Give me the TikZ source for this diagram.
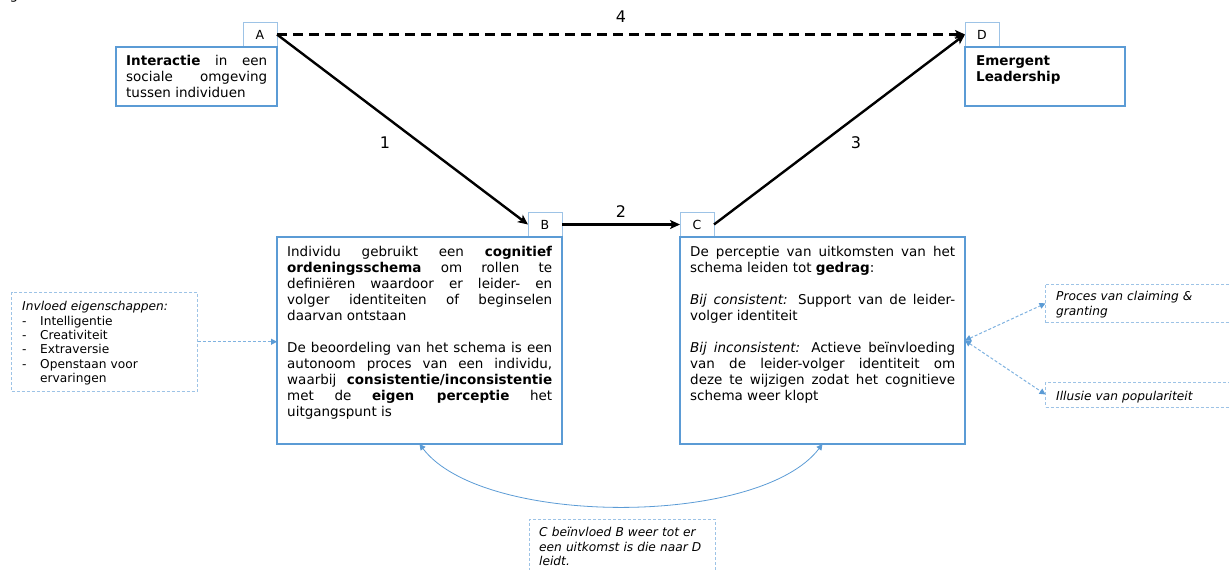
\documentclass[tikz,border=0pt]{standalone}
\usepackage{fontspec}
\setmainfont{DejaVu Sans}
\usetikzlibrary{arrows.meta,calc}
\definecolor{mblue}{HTML}{5B9BD5}
\definecolor{lblue}{HTML}{9DC3E6}
\definecolor{dblue}{HTML}{7FB2E0}
\tolerance=10000
\hyphenpenalty=10000
\tikzset{
  mainbox/.style={draw=mblue, line width=1.6pt, inner sep=0pt, outer sep=0pt, anchor=north west},
  labbox/.style={draw=lblue, line width=1pt, fill=white, minimum width=34pt, minimum height=25pt, inner sep=0pt, outer sep=0pt, font=\fontsize{12.5}{15}\selectfont},
  dbox/.style={draw=lblue, line width=0.9pt, dash pattern=on 3pt off 2pt, inner sep=0pt, outer sep=0pt, anchor=north west},
  body/.style={anchor=north west, inner sep=0pt, text width=#1, align=justify, font=\fontsize{13.5}{16}\selectfont},
  smalltext/.style={anchor=north west, inner sep=0pt, text width=#1, align=left, font=\fontsize{12.2}{14.3}\selectfont},
  blackarrow/.style={line width=2.4pt, -{Stealth[length=10pt,width=9pt,inset=2.5pt]}},
  blueconn/.style={draw=dblue, line width=1pt, dash pattern=on 3pt off 2pt},
  bluetip/.tip={Triangle[length=6pt,width=6pt,color=mblue,fill=mblue]},
  numlabel/.style={font=\fontsize{16}{19}\selectfont, inner sep=0pt},
}
\begin{document}
\begin{tikzpicture}[x=1pt,y=-1pt]
\useasboundingbox (0,0) rectangle (1229,570);
\clip (0,0) rectangle (1229,570);

% fragment of text cut at the top edge
\node[anchor=base, font=\fontsize{13.5}{16}\selectfont, inner sep=0pt] (frag) at (14,-1) {g};

% small label boxes
\node[labbox] (Alab) at (260,34.5) {A};
\node[labbox] (Dlab) at (982,34.5) {D};
\node[labbox] (Blab) at (545,224.5) {B};
\node[labbox] (Clab) at (697,224.5) {C};

% main boxes
\node[mainbox, minimum width=161pt, minimum height=59pt] (Abox) at (116,47) {};
\node[mainbox, minimum width=160pt, minimum height=59pt] (Dbox) at (965,47) {};
\node[mainbox, minimum width=285pt, minimum height=207pt] (Bbox) at (277,237) {};
\node[mainbox, minimum width=285pt, minimum height=207pt] (Cbox) at (680,237) {};

% dashed boxes
\node[dbox, minimum width=186pt, minimum height=98.5pt] (Lbox) at (11.5,292.5) {};
\node[dbox, minimum width=220pt, minimum height=38.7pt] (RTbox) at (1045.5,284) {};
\node[dbox, minimum width=220pt, minimum height=25pt] (RBbox) at (1045.5,382) {};
\node[dbox, minimum width=185.7pt, minimum height=60pt] (Botbox) at (529.3,519) {};

% texts
\node[body=141pt] (Atext) at (126,53.8) {\strut\textbf{Interactie} in een\linebreak sociale omgeving\linebreak tussen individuen};
\node[body=140pt, align=left] (Dtext) at (976,53.8) {\strut\textbf{Emergent}\\ \textbf{Leadership}};
\node[body=265pt] (Btext) at (287,245.5) {\strut Individu gebruikt een \textbf{cognitief}\linebreak \textbf{ordeningsschema} om rollen te\linebreak definiëren waardoor er leider- en\linebreak volger identiteiten of beginselen\linebreak daarvan ontstaan\par\vspace{16pt}
De beoordeling van het schema is een\linebreak autonoom proces van een individu,\linebreak waarbij \textbf{consistentie/inconsistentie}\linebreak met de \textbf{eigen perceptie} het\linebreak uitgangspunt is};
\node[body=265pt] (Ctext) at (690,245.5) {\strut De perceptie van uitkomsten van het\linebreak schema leiden tot \textbf{gedrag}:\par\vspace{16pt}
\textit{Bij consistent:} Support van de leider-\linebreak volger identiteit\par\vspace{16pt}
\textit{Bij inconsistent:} Actieve beïnvloeding\linebreak van de leider-volger identiteit om\linebreak deze te wijzigen zodat het cognitieve\linebreak schema weer klopt};

\node[smalltext=170pt] (Ltext) at (22,300.7) {\strut\textit{Invloed eigenschappen:}\\
\makebox[18pt][l]{-}Intelligentie\\
\makebox[18pt][l]{-}Creativiteit\\
\makebox[18pt][l]{-}Extraversie\\
\makebox[18pt][l]{-}Openstaan voor\\
\hspace*{18pt}ervaringen};
\node[smalltext=200pt] (RTtext) at (1056,290.7) {\strut\textit{Proces van claiming \&}\\ \textit{granting}};
\node[smalltext=200pt] (RBtext) at (1056,390) {\strut\textit{Illusie van populariteit}};
\node[smalltext=175pt] (Bottext) at (539,526.7) {\strut\textit{C beïnvloed B weer tot er}\\ \textit{een uitkomst is die naar D}\\ \textit{leidt.}};

% black connectors
\draw[blackarrow, dash pattern=on 10pt off 6pt] (Alab.east) -- (Dlab.west)
  node[numlabel, midway, yshift=17.5pt] (n4) {4};
\draw[blackarrow] (Alab.east) -- (Blab.west)
  node[numlabel, midway, xshift=-17.5pt, yshift=-13.5pt] (n1) {1};
\draw[blackarrow] (Blab.east) -- (Clab.west)
  node[numlabel, midway, yshift=12.5pt] (n2) {2};
\draw[blackarrow] (Clab.east) -- (Dlab.west)
  node[numlabel, midway, xshift=16.5pt, yshift=-13.5pt] (n3) {3};

% blue connectors
\draw[blueconn, -bluetip] (Lbox.east) -- (Lbox.east -| Bbox.west);
\draw[blueconn, bluetip-bluetip] (Cbox.east) -- (RTbox.west);
\draw[blueconn, bluetip-bluetip] (Cbox.east) -- (RBbox.west);
\draw[draw=mblue, line width=0.8pt, bluetip-bluetip] (Bbox.south) .. controls ($(Bbox.south)+(63,83)$) and ($(Cbox.south)+(-63,83)$) .. (Cbox.south);
\end{tikzpicture}
\end{document}
